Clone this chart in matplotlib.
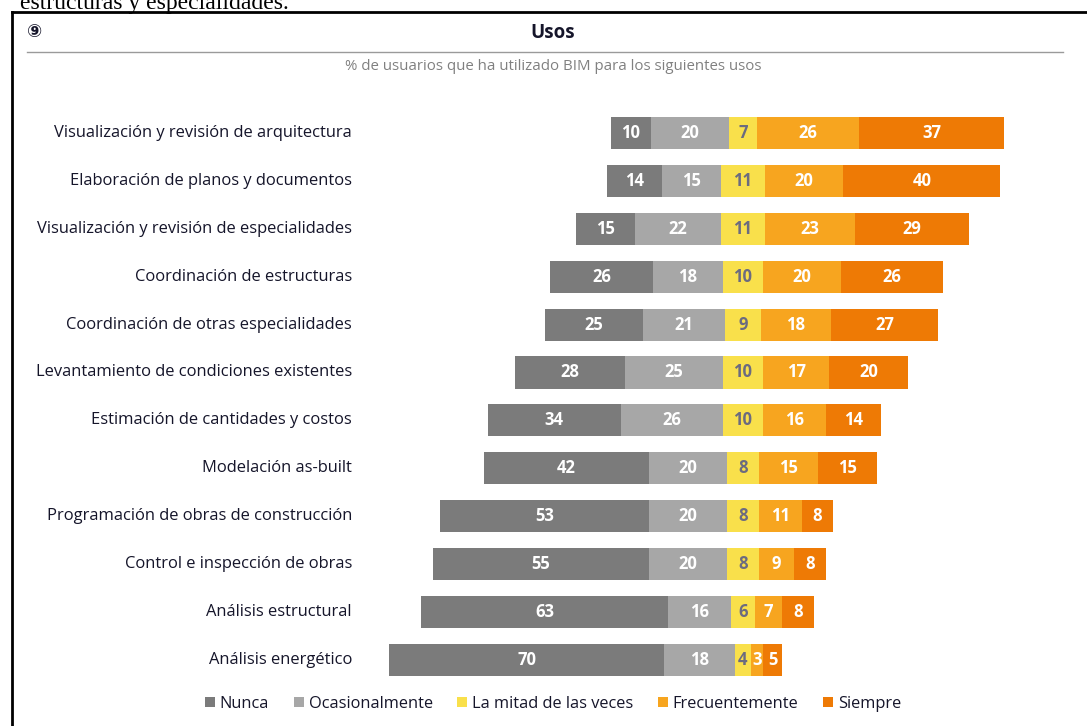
import matplotlib
matplotlib.use("Agg")
import matplotlib.pyplot as plt
from matplotlib.patches import Patch
import numpy as np

categories = [
    "Visualización y revisión de arquitectura",
    "Elaboración de planos y documentos",
    "Visualización y revisión de especialidades",
    "Coordinación de estructuras",
    "Coordinación de otras especialidades",
    "Levantamiento de condiciones existentes",
    "Estimación de cantidades y costos",
    "Modelación as-built",
    "Programación de obras de construcción",
    "Control e inspección de obras",
    "Análisis estructural",
    "Análisis energético",
]
series_names = ["Nunca", "Ocasionalmente", "La mitad de las veces", "Frecuentemente", "Siempre"]
nunca = [10, 14, 15, 26, 25, 28, 34, 42, 53, 55, 63, 70]
ocasionalmente = [20, 15, 22, 18, 21, 25, 26, 20, 20, 20, 16, 18]
mitad = [7, 11, 11, 10, 9, 10, 10, 8, 8, 8, 6, 4]
frecuentemente = [26, 20, 23, 20, 18, 17, 16, 15, 11, 9, 7, 3]
siempre = [37, 40, 29, 26, 27, 20, 14, 15, 8, 8, 8, 5]

colors = ["#7b7b7b", "#a7a7a7", "#f9e04b", "#f7a51f", "#ee7a05"]
text_colors = ["white", "white", "#6b6b80", "white", "white"]

plt.rcParams['font.family'] = ['Open Sans', 'DejaVu Sans']

W, H = 1087, 726
fig = plt.figure(figsize=(W / 100, H / 100), dpi=100)
ax = fig.add_axes([0, 0, 1, 1])

# pixel-based mapping helpers for layout (center of neutral at x=743 px)
cx, ppu = 743.0, 3.93
ax.set_xlim((0 - cx) / ppu, (W - cx) / ppu)
y0, dy = 133.0, 47.9
ax.set_ylim((H - y0) / dy, (0 - y0) / dy)
ax.axis("off")

data = np.array([nunca, ocasionalmente, mitad, frecuentemente, siempre], dtype=float)
ypos = np.arange(len(categories))
left = -(data[0] + data[1] + data[2] / 2.0)
bh = 0.67
for k in range(5):
    ax.barh(ypos, data[k], left=left, height=bh, color=colors[k], edgecolor="none")
    for i in ypos:
        v = data[k][i]
        ax.text(left[i] + v / 2.0, i, f"{int(v)}", ha="center", va="center",
                color=text_colors[k], fontsize=12, fontweight="bold")
    left = left + data[k]

lab_x = (352 - cx) / ppu
for i, c in enumerate(categories):
    ax.text(lab_x, i, c, ha="right", va="center", fontsize=11.9, color="#15152a")

# Frame and header
fig.add_artist(plt.Line2D([12 / W, 12 / W], [0, 1 - 12 / H], color="black", lw=2))
fig.add_artist(plt.Line2D([12 / W, 1], [1 - 12 / H, 1 - 12 / H], color="black", lw=2))
fig.add_artist(plt.Line2D([27 / W, 1063 / W], [1 - 52 / H, 1 - 52 / H], color="#9a9a9a", lw=1))
fig.text(20 / W, 1 - 3 / H, "estructuras y especialidades.", fontsize=17,
         family="Liberation Serif", va="center", ha="left", color="black")
fig.text(35 / W, 1 - 32 / H, "⑨", fontsize=13, ha="center", va="center",
         family="DejaVu Sans", color="#15152a", fontweight="bold")
fig.text(553 / W, 1 - 33 / H, "Usos", fontsize=13.5, fontweight="bold",
         ha="center", va="center", color="#15152a")
fig.text(553 / W, 1 - 67 / H, "% de usuarios que ha utilizado BIM para los siguientes usos",
         fontsize=10.8, ha="center", va="center", color="#808080")

handles = [Patch(facecolor=colors[k], edgecolor="none", label=series_names[k]) for k in range(5)]
fig.legend(handles=handles, loc="center", bbox_to_anchor=(553 / W, 1 - 704 / H), ncol=5,
           frameon=False, fontsize=11.8, handlelength=0.6, handleheight=0.6,
           handletextpad=0.3, columnspacing=1.5, labelcolor="#15152a")

fig.savefig("out.png", dpi=100)
